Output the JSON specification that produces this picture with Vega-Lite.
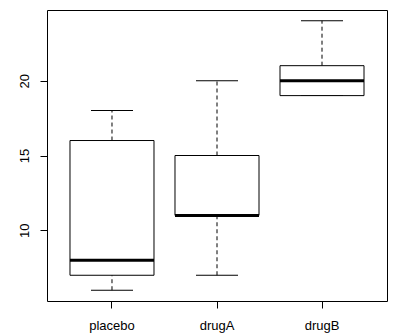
{
  "$schema": "https://vega.github.io/schema/vega-lite/v6.json",
  "width": 340,
  "height": 291,
  "autosize": {"type": "none"},
  "padding": {"left": 47, "top": 10, "right": 6, "bottom": 32},
  "background": "white",
  "config": {
    "view": {"stroke": "black", "strokeWidth": 1},
    "font": "Liberation Sans",
    "axis": {"grid": false, "domain": false, "tickColor": "black", "tickSize": 7, "labelColor": "black", "labelFontSize": 13, "title": null, "labelFont": "Liberation Sans"}
  },
  "data": {
    "values": [
      {"group": "placebo", "min": 6, "q1": 7, "median": 8, "q3": 16, "max": 18},
      {"group": "drugA", "min": 7, "q1": 11, "median": 11, "q3": 15, "max": 20},
      {"group": "drugB", "min": 19, "q1": 19, "median": 20, "q3": 21, "max": 24}
    ]
  },
  "encoding": {
    "x": {
      "field": "group",
      "type": "nominal",
      "sort": ["placebo", "drugA", "drugB"],
      "scale": {"paddingInner": 0.2, "paddingOuter": 0.219},
      "axis": {"labelAngle": 0, "labelPadding": 11}
    }
  },
  "layer": [
    {
      "mark": {"type": "rule", "strokeDash": [4, 3], "color": "black", "strokeWidth": 1},
      "encoding": {
        "y": {"field": "q3", "type": "quantitative", "scale": {"domain": [5.28, 24.72], "nice": false, "zero": false}, "axis": {"values": [10, 15, 20], "labelAngle": -90, "labelAlign": "center", "labelBaseline": "bottom", "labelPadding": 9}},
        "y2": {"field": "max"}
      }
    },
    {
      "mark": {"type": "rule", "strokeDash": [4, 3], "color": "black", "strokeWidth": 1},
      "encoding": {
        "y": {"field": "min", "type": "quantitative"},
        "y2": {"field": "q1"}
      }
    },
    {
      "mark": {"type": "tick", "orient": "horizontal", "size": 42, "thickness": 1, "color": "black", "opacity": 1},
      "encoding": {"y": {"field": "max", "type": "quantitative"}}
    },
    {
      "mark": {"type": "tick", "orient": "horizontal", "size": 42, "thickness": 1, "color": "black", "opacity": 1},
      "encoding": {"y": {"field": "min", "type": "quantitative"}}
    },
    {
      "mark": {"type": "bar", "fill": "white", "stroke": "black", "strokeWidth": 1},
      "encoding": {
        "y": {"field": "q1", "type": "quantitative"},
        "y2": {"field": "q3"}
      }
    },
    {
      "mark": {"type": "tick", "orient": "horizontal", "size": 84, "thickness": 3, "color": "black", "opacity": 1},
      "encoding": {"y": {"field": "median", "type": "quantitative"}}
    }
  ]
}
